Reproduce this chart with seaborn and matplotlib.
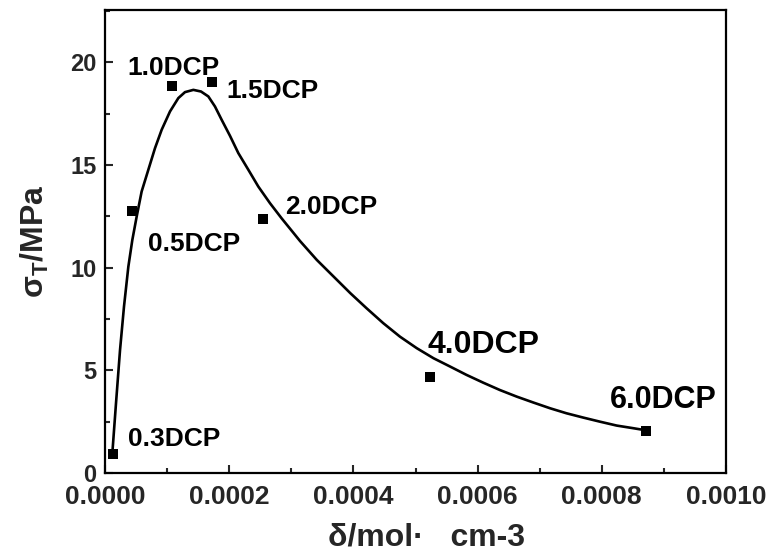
import matplotlib
matplotlib.use("Agg")
import matplotlib.pyplot as plt
from matplotlib.ticker import MultipleLocator, FormatStrFormatter
import seaborn as sns
import pandas as pd

# ---- data ----
dcp_labels = ["0.3DCP", "0.5DCP", "1.0DCP", "1.5DCP", "2.0DCP", "4.0DCP", "6.0DCP"]
crosslink_density = [1.24e-5, 4.4e-5, 1.08e-4, 1.73e-4, 2.54e-4, 5.24e-4, 8.71e-4]
tensile_strength = [0.91, 12.78, 18.83, 19.02, 12.38, 4.69, 2.06]

# fitted curve
fit_x = [1.18e-5, 1.77e-5, 2.42e-5, 3.06e-5, 3.76e-5, 4.40e-5, 5.10e-5, 5.90e-5,
         6.98e-5, 8.05e-5, 9.13e-5, 1.047e-4, 1.181e-4, 1.288e-4, 1.423e-4, 1.546e-4,
         1.664e-4, 1.771e-4, 1.879e-4, 2.013e-4, 2.147e-4, 2.308e-4, 2.469e-4, 2.657e-4,
         2.845e-4, 3.033e-4, 3.14e-4, 3.41e-4, 3.68e-4, 3.95e-4, 4.21e-4, 4.48e-4,
         4.75e-4, 5.02e-4, 5.29e-4, 5.56e-4, 5.82e-4, 6.09e-4, 6.36e-4, 6.63e-4,
         6.90e-4, 7.17e-4, 7.43e-4, 7.70e-4, 7.97e-4, 8.24e-4, 8.51e-4, 8.67e-4]
fit_y = [0.96, 3.39, 5.99, 8.11, 10.05, 11.35, 12.49, 13.71,
         14.77, 15.82, 16.72, 17.61, 18.26, 18.55, 18.66, 18.58,
         18.34, 17.85, 17.20, 16.42, 15.58, 14.77, 13.95, 13.14,
         12.40, 11.70, 11.30, 10.38, 9.57, 8.76, 8.03, 7.30,
         6.64, 6.08, 5.59, 5.18, 4.78, 4.40, 4.04, 3.72,
         3.43, 3.15, 2.91, 2.70, 2.50, 2.31, 2.18, 2.10]

x_ticks = [0.0, 0.0002, 0.0004, 0.0006, 0.0008, 0.0010]
y_ticks = [0, 5, 10, 15, 20]

# label placement (pixel offsets from each point, left/baseline anchored)
label_offsets = [(15, 8), (16, -40), (-45, 11), (14, -16), (22, 5), (-3, 24), (-36, 23)]
label_sizes = [19, 19, 19, 19, 19, 23, 22]

points = pd.DataFrame({"x": crosslink_density, "y": tensile_strength, "label": dcp_labels})
curve = pd.DataFrame({"x": fit_x, "y": fit_y})

sns.set_style("ticks")
plt.rcParams["font.family"] = ["Liberation Sans", "DejaVu Sans"]
plt.rcParams["mathtext.fontset"] = "custom"
plt.rcParams["mathtext.rm"] = "Liberation Sans:bold"
plt.rcParams["mathtext.it"] = "Liberation Sans:bold"
plt.rcParams["mathtext.bf"] = "Liberation Sans:bold"

fig = plt.figure(figsize=(7.71, 5.54), dpi=100)
ax = fig.add_axes([105 / 771, 1 - 473 / 554, (726 - 105) / 771, (473 - 10) / 554])

sns.lineplot(data=curve, x="x", y="y", sort=False, color="black", linewidth=1.9, ax=ax)
sns.scatterplot(data=points, x="x", y="y", marker="s", s=45, color="black",
                edgecolor="black", linewidth=0, ax=ax, zorder=3)

for (lab, xv, yv), (dx, dy), fs in zip(zip(dcp_labels, crosslink_density, tensile_strength),
                                       label_offsets, label_sizes):
    ax.annotate(lab, xy=(xv, yv), xytext=(dx, dy), textcoords="offset pixels",
                ha="left", va="baseline", fontsize=fs, fontweight="bold", color="black")

ax.set_xlim(0, 0.001)
ax.set_ylim(0, 22.55)
ax.set_xticks(x_ticks)
ax.set_yticks(y_ticks)
ax.xaxis.set_major_formatter(FormatStrFormatter("%.4f"))
ax.xaxis.set_minor_locator(MultipleLocator(0.0001))
ax.yaxis.set_minor_locator(MultipleLocator(2.5))

ax.tick_params(axis="both", which="major", direction="in", length=6, width=1.5,
               top=False, right=False)
ax.tick_params(axis="both", which="minor", direction="in", length=3.5, width=1.5,
               top=False, right=False)
ax.tick_params(axis="x", which="major", labelsize=19, pad=9)
ax.tick_params(axis="y", which="major", labelsize=17, pad=6)
for lbl in ax.get_xticklabels() + ax.get_yticklabels():
    lbl.set_fontweight("bold")
for lbl in ax.get_yticklabels():
    lbl.set_va("center_baseline")

for sp in ax.spines.values():
    sp.set_visible(True)
    sp.set_linewidth(1.6)
    sp.set_color("black")

ax.set_xlabel("δ/mol·   cm-3", fontsize=23, fontweight="bold")
ax.set_ylabel(r"σ$_{\mathrm{T}}$/MPa", fontsize=23, fontweight="bold")
ax.xaxis.set_label_coords((426 - 105) / (726 - 105), -(538 - 473) / (473 - 10), transform=ax.transAxes)
ax.yaxis.set_label_coords(-(105 - 35) / (726 - 105), 0.5, transform=ax.transAxes)
ax.xaxis.label.set_va("center")
ax.yaxis.label.set_va("center")

if ax.get_legend() is not None:
    ax.get_legend().remove()

fig.savefig("out.png", dpi=100)
